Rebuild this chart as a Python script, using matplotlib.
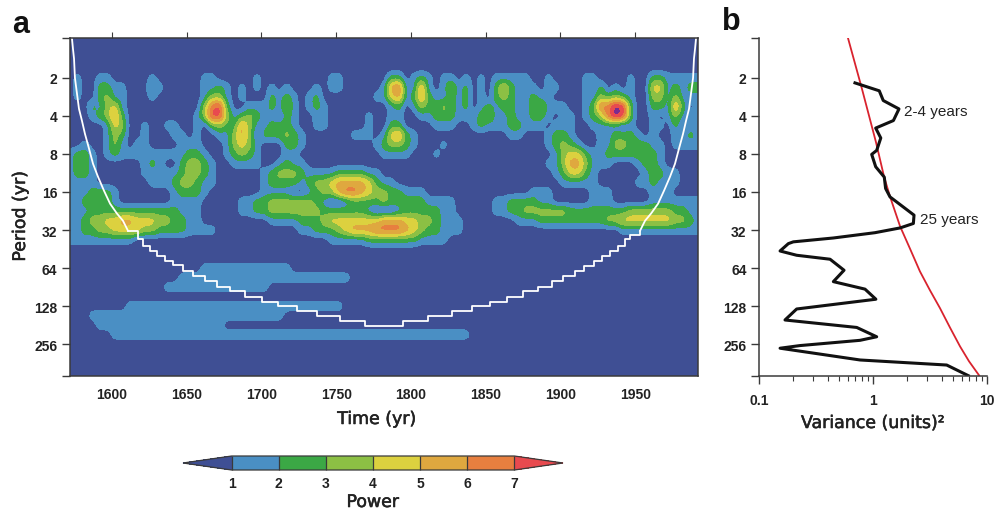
import numpy as np
import matplotlib
matplotlib.use("Agg")
import matplotlib.pyplot as plt
import matplotlib.patheffects as pe
from matplotlib.colors import ListedColormap, BoundaryNorm
from matplotlib.colorbar import ColorbarBase
from matplotlib.ticker import FixedLocator, FixedFormatter, NullFormatter

plt.rcParams['font.family'] = ['Liberation Sans', 'DejaVu Sans']

# wavelet power, each digit = the colour band of that cell
# columns every 5 yr from 1572, rows every quarter octave from 2^-0.25
power_rows = [
    "", "", "", "", "",
    "01001 10000 01000 00011 00000 10000 00000 11000 00022 01210 11010 10111 11001 00001 10000 10022 11111",
    "01002 21100 02100 00011 21010 10101 00010 11000 00156 11510 13120 10242 11101 10001 02010 10044 12122",
    "01002 31100 01000 00013 31010 00212 10120 00000 01145 12521 12120 10232 11211 00001 13232 10033 13111",
    "00021 34100 00000 00036 72001 11213 10121 00000 00012 01322 32120 12122 11231 11001 26687 20022 15201",
    "00012 35200 00000 00137 73123 21102 10011 00000 10011 00112 22111 23112 11221 01101 23687 20010 13111",
    "00000 14300 10011 00102 32253 11222 10011 00000 10022 00001 11001 21112 21110 11100 11110 10011 02011",
    "00000 13200 10001 10100 11353 02223 21000 00011 10145 21000 00000 00001 10001 22100 01122 21010 01121",
    "00100 13101 10000 11100 01343 10002 21000 00000 01233 21000 10000 00000 00001 23210 01133 22211 01111",
    "12210 12111 11111 12210 01232 10001 10000 00000 00111 10001 00000 00000 00000 13442 11222 22221 00000",
    "12210 00000 12100 23321 00111 10012 11000 00000 00000 00000 00000 00000 00001 13553 11100 01221 00000",
    "12210 00000 11111 23321 00000 01233 32111 12222 11000 00000 00000 00000 00000 12442 10000 00122 11000",
    "11110 00000 01112 33211 00000 01222 21233 45555 42110 00000 00000 00000 00000 01111 10000 01121 11000",
    "11122 21000 00001 22210 00000 01111 00123 35665 43322 11100 00000 00000 00111 00000 11100 00011 10000",
    "11222 21000 00001 11100 00011 22333 33321 00122 22322 22211 11000 00112 22211 00000 11100 00011 11111",
    "11122 22222 22222 11100 00011 22333 33332 22222 10001 22222 11000 00112 23333 33222 22222 33333 32211",
    "11233 44554 44332 21100 00000 00111 12223 44444 44555 44332 11100 00000 11122 22222 22334 44444 43321",
    "11223 34444 33222 21111 00000 00000 01122 23455 56666 54322 11100 00000 00000 00000 00001 11111 11111",
    "11111 11110 00000 00000 00000 00000 00000 11111 22222 22111 10000",
    "", "",
    "00000 00000 00000 00011 11111 11111",
    "00000 00000 00000 11111 11111 11111 11111 11100",
    "00000 00000 00011 11111 11111 11000",
    "",
    "00000 00011 11111 11111 11111 11111 11111 11000",
    "00011 11111 11111 11111 11111 11110",
    "00001 11111 11111 11111 10000",
    "00000 01111 11111 11111 11111 11111 11111 11111 11111 11111 11110",
    "", "", "", "", "",
]

# cone of influence: smooth ends and stepped middle
coi_left_years = [1573.3, 1574, 1574.7, 1575.3, 1576.7, 1578, 1580, 1582, 1584.7, 1587.4, 1590.7, 1594.7,
                  1598.8, 1603.4, 1607.4, 1610.8]
coi_left_periods = [0.97, 1.18, 1.41, 2, 2.68, 3.51, 4.37, 5.54, 7.25, 9.57, 12.1, 15.6,
                    19.8, 23.7, 27, 32.5]
coi_step_years = [1610.8, 1617.5, 1620.8, 1625.5, 1630.2, 1635.5, 1640.9, 1647.6,
                  1654.3, 1662.3, 1670.3, 1679, 1689, 1700.4, 1711, 1723.8, 1737.2, 1752.6, 1769.3,
                  1794.7, 1811.4, 1827.5, 1840.9, 1852.9, 1864.3, 1875, 1885, 1894.4, 1901.7, 1909.7,
                  1915.8, 1922.4, 1927.8, 1933.2, 1938.5, 1943.2, 1946.5, 1953.2]
coi_step_periods = [32.5, 37.5, 42.5, 46.5, 51, 55.9, 61, 68,
                    74.6, 81.6, 89.7, 98, 107.6, 117.8, 129, 141, 154, 169, 185,
                    169, 154, 141, 129, 117.8, 107.6, 98, 89.7, 81.6, 74.6, 68,
                    62, 55.9, 51, 46.5, 42.5, 38, 35, 32.5]
coi_right_years = [1953.2, 1956.6, 1960.6, 1965.3, 1969.3, 1973.3, 1976.6, 1979.3, 1982, 1984, 1986,
                   1987.3, 1988.7, 1989.3, 1990, 1990.7]
coi_right_periods = [32.5, 27, 23.7, 19.8, 15.6, 12.1, 9.57, 7.25, 5.54, 4.37, 3.51,
                     2.68, 2, 1.41, 1.18, 0.97]

# global spectrum
gws_variance = [0.695, 1.135, 1.23, 1.69, 1.51, 1.056, 1.17, 1.077, 0.974, 1.056, 1.256, 1.29, 1.41,
                2.29, 2.26, 1.73, 1.04, 0.449, 0.2, 0.181, 0.153, 0.214, 0.42, 0.557, 0.449, 0.851,
                1.06, 0.214, 0.169, 0.72, 1.077, 0.77, 0.229, 0.153, 0.77, 4.43, 6.85]
gws_period = [2.19, 2.53, 3.02, 3.52, 4.35, 4.99, 5.98, 7.5, 8.06, 10.1, 12.2, 15, 17.5,
              24.4, 28.4, 30.8, 33.6, 37, 39.7, 41, 46.9, 50.7, 54.5, 66.6, 82, 94,
              113, 135, 165, 189, 224, 239, 263, 276, 342, 375, 455]

# red significance curve
signif_variance = [0.604, 0.8, 1.06, 1.25, 1.41, 1.73, 2.11, 2.58, 3.16, 3.87, 4.73, 5.8, 6.95, 8.51]
signif_period = [0.97, 2.44, 6.41, 12.1, 17.4, 30, 44.9, 68, 96, 133, 189, 267, 350, 452]

period_ticks = [2, 4, 8, 16, 32, 64, 128, 256]
year_ticks = [1600, 1650, 1700, 1750, 1800, 1850, 1900, 1950]
power_ticks = [1, 2, 3, 4, 5, 6, 7]

band_colors = ['#3F4F94', '#4A8FC4', '#3BA845', '#8CC044', '#DCD13F', '#DFA83F', '#E77F3F', '#E84A4F', '#7A2C8F']
axis_color = '#3a3a3a'
text_color = '#222222'


def soften(grid, factor=4, width=3, passes=2):
    # contours of the raw band grid come out blocky, so refine it and blur a little
    ny, nx = grid.shape
    yi = np.linspace(0, ny - 1, (ny - 1) * factor + 1)
    xi = np.linspace(0, nx - 1, (nx - 1) * factor + 1)
    out = np.array([np.interp(xi, np.arange(nx), r) for r in grid])
    out = np.array([np.interp(yi, np.arange(ny), c) for c in out.T]).T
    kernel = np.ones(width) / width
    pad = width // 2
    for _ in range(passes):
        out = np.pad(out, pad, mode='edge')
        out = np.apply_along_axis(np.convolve, 0, out, kernel, mode='same')
        out = np.apply_along_axis(np.convolve, 1, out, kernel, mode='same')
        out = out[pad:-pad, pad:-pad]
    return yi, xi, out


rows = [r.replace(" ", "").ljust(85, "0") for r in power_rows]
power = np.array([[int(c) for c in r] for r in rows]) + 0.5
yi, xi, power_fine = soften(power)
years = 1572 + 5 * xi
periods = 2.0 ** (0.25 * yi - 0.25)

fig = plt.figure(figsize=(10, 5.1), dpi=100)
W, H = 1000.0, 510.0
y_lo, y_hi = 458, 0.966
heavy = [pe.withStroke(linewidth=0.4, foreground=text_color)]


def px_axes(left, top, right, bottom):
    return fig.add_axes([left / W, 1 - bottom / H, (right - left) / W, (bottom - top) / H])


def px_text(x, y, s, **kw):
    kw.setdefault('ha', 'center')
    kw.setdefault('va', 'center')
    kw.setdefault('color', text_color)
    fig.text(x / W, 1 - y / H, s, **kw)


# panel a
ax = px_axes(70, 39, 698, 377)
ax.contourf(years, periods, power_fine, levels=[0, 1, 2, 3, 4, 5, 6, 7, 8, 10], colors=band_colors)
ax.plot(coi_left_years, coi_left_periods, color='white', lw=1.3)
ax.step(coi_step_years, coi_step_periods, where='post', color='white', lw=1.3)
ax.plot(coi_right_years, coi_right_periods, color='white', lw=1.3)
ax.set_yscale('log', base=2)
ax.set_ylim(y_lo, y_hi)
ax.set_xlim(1572, 1992)
ax.yaxis.set_major_locator(FixedLocator(period_ticks + [y_lo, y_hi]))
ax.yaxis.set_major_formatter(FixedFormatter([str(p) for p in period_ticks] + ['', '']))
ax.yaxis.set_minor_formatter(NullFormatter())
ax.yaxis.set_minor_locator(FixedLocator([]))
ax.set_xticks(year_ticks)
ax.tick_params(axis='x', top=True, bottom=False, labeltop=False, labelbottom=True, length=4,
               width=0.8, color=axis_color, pad=4, labelsize=10, labelcolor=text_color)
ax.tick_params(axis='y', length=6, width=1, color=axis_color, pad=3, labelsize=10, labelcolor=text_color)
for lab in ax.get_xticklabels() + ax.get_yticklabels():
    lab.set_fontweight('bold')
for s in ax.spines.values():
    s.set_color(axis_color)
    s.set_linewidth(1.1)

# panel b
axb = px_axes(759, 39, 987, 377)
axb.plot(signif_variance, signif_period, color='#D9232E', lw=1.3)
axb.plot(gws_variance, gws_period, color='#111111', lw=2.2, solid_joinstyle='round')
axb.set_xscale('log')
axb.set_yscale('log', base=2)
axb.set_xlim(0.1, 10)
axb.set_ylim(y_lo, y_hi)
axb.yaxis.set_major_locator(FixedLocator(period_ticks + [y_lo, y_hi]))
axb.yaxis.set_major_formatter(FixedFormatter([str(p) for p in period_ticks] + ['', '']))
axb.yaxis.set_minor_locator(FixedLocator([]))
axb.yaxis.set_minor_formatter(NullFormatter())
axb.set_xticks([0.1, 1, 10])
axb.set_xticklabels(['0.1', '1', '10'])
axb.xaxis.set_minor_formatter(NullFormatter())
axb.tick_params(axis='x', which='major', length=6, width=1, color=axis_color, pad=6,
                labelsize=10, labelcolor=text_color)
axb.tick_params(axis='x', which='minor', length=3.5, width=0.8, color=axis_color)
axb.tick_params(axis='y', length=6, width=1, color=axis_color, pad=3, labelsize=10, labelcolor=text_color)
for lab in axb.get_xticklabels() + axb.get_yticklabels():
    lab.set_fontweight('bold')
axb.spines['top'].set_visible(False)
axb.spines['right'].set_visible(False)
for side in ['left', 'bottom']:
    axb.spines[side].set_color(axis_color)
    axb.spines[side].set_linewidth(1.1)

# power colour bar
cax = px_axes(183, 457, 563, 471)
bar_cmap = ListedColormap(band_colors[1:7])
bar_cmap.set_under(band_colors[0])
bar_cmap.set_over(band_colors[7])
cb = ColorbarBase(cax, cmap=bar_cmap, norm=BoundaryNorm(power_ticks, 6), orientation='horizontal',
                  extend='both', extendfrac=0.172, ticks=power_ticks, drawedges=True)
cb.dividers.set_color(axis_color)
cb.dividers.set_linewidth(0.9)
cb.outline.set_edgecolor(axis_color)
cb.outline.set_linewidth(0.9)
cb.ax.tick_params(length=0, pad=4, labelsize=10, labelcolor=text_color)
for lab in cb.ax.get_xticklabels():
    lab.set_fontweight('bold')

px_text(21, 25, 'a', fontsize=22, fontweight='bold', color='#111111')
px_text(731, 22, 'b', fontsize=22, fontweight='bold', color='#111111')
px_text(377, 420, 'Time (yr)', fontsize=12.5, family=['DejaVu Sans'], path_effects=heavy)
px_text(20, 217, 'Period (yr)', fontsize=12.5, rotation=90, family=['DejaVu Sans'], path_effects=heavy)
px_text(873, 424, 'Variance (units)\u00b2', fontsize=12.5, family=['DejaVu Sans'], path_effects=heavy)
px_text(373, 503, 'Power', fontsize=12.5, family=['DejaVu Sans'], path_effects=heavy)
px_text(904, 112, '2-4 years', fontsize=11, ha='left')
px_text(920, 220, '25 years', fontsize=11, ha='left')

fig.savefig("out.png", dpi=100)
